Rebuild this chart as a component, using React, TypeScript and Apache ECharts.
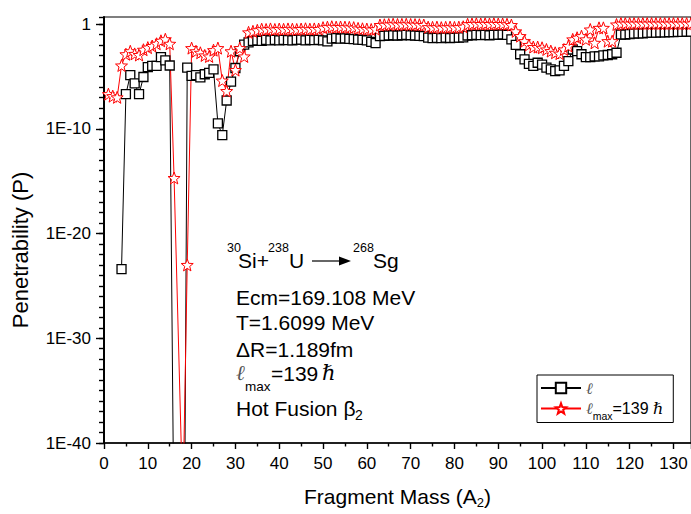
import React, { useEffect, useRef } from "react";
import * as echarts from "echarts";

// ---------- data ----------
// Fragment mass A2 runs 1..134; index i -> A2 = MASS_START + i
const MASS_START = 1;

// ℓ (black open squares)
const penetrabilityL: (number | null)[] = [
  null, null, null, 4e-24, 2.0e-7, 1.35e-5, 2.2e-6, 2.0e-7, 8.7e-6, 7.8e-5,
  1.0e-4, 1.0e-4, 6.9e-4, 3.4e-4, 1.1e-4, 1e-50, 1e-70, 1e-76, 7e-5, 1.1e-5,
  1.3e-5, 8e-6, 1.6e-5, 2.2e-5, 4.7e-5, 3.2e-10, 2.5e-11, 5e-8, 3.2e-6, 6.3e-5,
  2.5e-3, 1.1e-2, 1.8e-2, 0.025, 0.028, 0.025, 0.03, 0.027, 0.03, 0.028,
  0.031, 0.029, 0.027, 0.03, 0.032, 0.028, 0.03, 0.029, 0.031, 0.028,
  0.022, 0.04, 0.045, 0.04, 0.042, 0.038, 0.036, 0.033, 0.03, 0.027,
  0.02, 0.015, 0.07, 0.075, 0.08, 0.085, 0.08, 0.085, 0.09, 0.085,
  0.08, 0.075, 0.07, 0.05, 0.045, 0.048, 0.045, 0.05, 0.046, 0.048,
  0.05, 0.052, 0.08, 0.085, 0.09, 0.088, 0.09, 0.085, 0.09, 0.095,
  0.1, 0.09, 0.034, 0.01, 1.3e-3, 4.2e-4, 1.6e-4, 1.0e-4, 2.0e-4, 1.3e-4,
  6.8e-5, 4.7e-5, 3.2e-5, 3.8e-5, 1.0e-4, 2.9e-4, 3.7e-3, 2.6e-3, 1.3e-3, 7e-4,
  7e-4, 8e-4, 8e-4, 1e-3, 1.1e-3, 1.3e-3, 1.8e-3, 0.1, 0.1, 0.11,
  0.12, 0.13, 0.13, 0.14, 0.15, 0.15, 0.16, 0.16, 0.17, 0.17,
  0.18, 0.18, 0.19, 0.19,
];

// ℓmax = 139 ħ (red open stars)
const penetrabilityLmax: (number | null)[] = [
  2.0e-7, 1.3e-7, 1.0e-7, 1.1e-4, 1.3e-3, 2.5e-3, 1.4e-3, 1.1e-3, 3.5e-3, 5.6e-3,
  7.9e-3, 1.3e-2, 2.5e-2, 3.5e-2, 1.3e-2, 2.0e-15, null, 1e-46, 1.0e-23, 5.0e-3,
  2.5e-3, 1.8e-3, 1.0e-3, 8.0e-4, 3.2e-3, 5.0e-3, 4.0e-6, 4.0e-7, 2.5e-3, 4.0e-5,
  5.0e-3, 8.0e-4, 0.16, 0.2, 0.25, 0.32, 0.3, 0.34, 0.3, 0.33,
  0.31, 0.34, 0.32, 0.3, 0.33, 0.35, 0.32, 0.34, 0.33, 0.45,
  0.5, 0.55, 0.5, 0.52, 0.5, 0.48, 0.45, 0.38, 0.35, 0.33,
  0.3, 0.32, 0.8, 0.85, 0.9, 0.95, 0.9, 0.92, 0.95, 0.9,
  0.88, 0.85, 0.8, 0.5, 0.48, 0.5, 0.45, 0.48, 0.5, 0.47,
  0.5, 0.55, 0.95, 1.0, 1.05, 1.0, 1.05, 1.0, 1.05, 1.0,
  1.0, 0.95, 0.8, 0.2, 0.07, 0.023, 0.01, 6.3e-3, 6.3e-3, 5.4e-3,
  3.7e-3, 2.6e-3, 1.8e-3, 1.5e-3, 3.7e-3, 7.9e-3, 0.034, 0.049, 0.069, 0.034,
  0.3, 0.016, 0.43, 0.43, 0.023, 0.023, 0.9, 1.1, 1.1, 1.1,
  1.1, 1.1, 1.1, 1.1, 1.1, 1.1, 1.1, 1.1, 1.1, 1.1,
  1.1, 1.1, 1.1, 1.1,
];

// axes
const X_MIN = 0;
const X_MAX = 134;
const X_STEP = 10;
const Y_MIN = 1e-40;
const Y_MAX = 4.677; // top of frame, ~10^0.67
const Y_EXP_MIN = -40;
const Y_EXP_MAX = 0.67;
const Y_LABEL_STEP = 10; // labelled decades: 1E-40 ... 1
const Y_MINOR_STEP = 1;

const seriesNames = ["ℓ", "ℓmax=139 ℏ"];

const FONT = "Liberation Sans, Arial, sans-serif";
const SERIF_IT = "DejaVu Serif, serif";

const STAR =
  "path://M0,-10 L2.45,-3.37 L9.51,-3.09 L3.96,1.29 L5.88,8.09 L0,4.17 L-5.88,8.09 L-3.96,1.29 L-9.51,-3.09 L-2.45,-3.37 Z";

const toPairs = (arr: (number | null)[]) =>
  arr.map((v, i) => [MASS_START + i, v == null ? null : v]);

function txt(x: number, y: number, text: string, fontSize: number, extra: any = {}) {
  return {
    type: "text",
    x,
    y,
    style: {
      text,
      fontFamily: FONT,
      fontSize,
      fill: "#000",
      align: "left",
      verticalAlign: "middle",
      ...extra,
    },
  };
}

export default function App() {
  const ref = useRef<HTMLDivElement>(null);

  useEffect(() => {
    if (!ref.current) return;
    const chart = echarts.init(ref.current, undefined, { renderer: "svg" });

    const option: any = {
      animation: false,
      backgroundColor: "#fff",
      grid: {
        left: 104,
        top: 17,
        right: -2,
        bottom: 69,
        show: true,
        borderColor: "#000",
        borderWidth: 1.2,
        backgroundColor: "transparent",
      },
      legend: {
        left: 537,
        top: 375,
        orient: "vertical",
        data: seriesNames,
        itemWidth: 40,
        itemHeight: 13,
        itemGap: 4.5,
        padding: [5, 10, 1, 3],
        borderColor: "#000",
        borderWidth: 1,
        backgroundColor: "#fff",
        selectedMode: false,
        formatter: (name: string) =>
          name === seriesNames[0]
            ? "{l1|ℓ}"
            : "{l|ℓ}{sub|max}{t|=139 }{h|ℏ}",
        textStyle: {
          fontFamily: FONT,
          fontSize: 16,
          color: "#000",
          rich: {
            l1: { fontFamily: SERIF_IT, fontStyle: "italic", fontSize: 16, color: "#555", lineHeight: 22, verticalAlign: "middle" },
            l: { fontFamily: SERIF_IT, fontStyle: "italic", fontSize: 16, color: "#555", lineHeight: 26, verticalAlign: "middle" },
            t: { fontFamily: FONT, fontSize: 16, color: "#000", lineHeight: 26, verticalAlign: "middle" },
            h: { fontFamily: SERIF_IT, fontStyle: "italic", fontSize: 16, color: "#000", lineHeight: 26, verticalAlign: "middle" },
            sub: { fontFamily: FONT, fontSize: 10.5, color: "#000", lineHeight: 10, verticalAlign: "bottom" },
          },
        },
      },
      xAxis: {
        type: "value",
        min: X_MIN,
        max: X_MAX,
        interval: X_STEP,
        position: "bottom",
        axisLine: { onZero: false, lineStyle: { color: "#000", width: 1.6 } },
        axisTick: { show: true, inside: false, length: 6, lineStyle: { color: "#000", width: 1.4 } },
        minorTick: { show: true, splitNumber: 2, length: 3.5, lineStyle: { color: "#000", width: 1.4 } },
        splitLine: { show: false },
        axisLabel: { color: "#000", fontFamily: FONT, fontSize: 17, margin: 12, showMaxLabel: false },
        name: "{t|Fragment Mass (A}{s|2}{t|)}",
        nameLocation: "middle",
        nameGap: 40,
        nameTextStyle: {
          fontFamily: FONT,
          fontSize: 21,
          color: "#000",
          rich: {
            t: { fontFamily: FONT, fontSize: 21, color: "#000", lineHeight: 26, verticalAlign: "middle" },
            s: { fontFamily: FONT, fontSize: 13, color: "#000", lineHeight: 13, verticalAlign: "bottom" },
          },
        },
      },
      yAxis: [
        {
          // the data axis: a real log scale
          type: "log",
          logBase: 10,
          min: Y_MIN,
          max: Y_MAX,
          position: "left",
          show: false,
          splitLine: { show: false },
        },
        {
          // labelled decades (exponent scale, same extent as the log axis)
          type: "value",
          min: Y_EXP_MIN,
          max: Y_EXP_MAX,
          interval: Y_LABEL_STEP,
          position: "left",
          axisLine: { show: true, onZero: false, lineStyle: { color: "#000", width: 2 } },
          axisTick: { show: true, inside: false, length: 8, lineStyle: { color: "#000", width: 1.4 } },
          splitLine: { show: false },
          axisLabel: {
            color: "#000",
            fontFamily: FONT,
            fontSize: 17,
            margin: 13,
            showMaxLabel: false,
            formatter: (v: number) => (v === 0 ? "1" : "1E" + v),
          },
        },
        {
          // one minor tick per decade
          type: "value",
          min: Y_EXP_MIN,
          max: Y_EXP_MAX,
          interval: Y_MINOR_STEP,
          position: "left",
          axisLine: { show: false },
          axisTick: { show: true, inside: false, length: 5, lineStyle: { color: "#000", width: 1.4 } },
          axisLabel: { show: false },
          splitLine: { show: false },
        },
      ],
      series: [
        {
          name: seriesNames[0],
          type: "line",
          xAxisIndex: 0,
          yAxisIndex: 0,
          data: toPairs(penetrabilityL),
          symbol: "rect",
          symbolSize: 9,
          showAllSymbol: true,
          connectNulls: false,
          clip: true,
          itemStyle: { color: "#fff", borderColor: "#000", borderWidth: 1.3 },
          lineStyle: { color: "#000", width: 1 },
          emphasis: { disabled: true },
        },
        {
          name: seriesNames[1],
          type: "line",
          xAxisIndex: 0,
          yAxisIndex: 0,
          data: toPairs(penetrabilityLmax),
          symbol: STAR,
          symbolSize: 12,
          showAllSymbol: true,
          connectNulls: true,
          clip: true,
          itemStyle: { color: "#fff", borderColor: "#ff0000", borderWidth: 1 },
          lineStyle: { color: "#ff0000", width: 1 },
          emphasis: { disabled: true },
        },
      ],
      graphic: [
        {
          type: "text",
          x: 20,
          y: 250,
          rotation: Math.PI / 2,
          style: {
            text: "Penetrability (P)",
            fontFamily: FONT,
            fontSize: 22,
            fill: "#000",
            align: "center",
            verticalAlign: "middle",
          },
        },
        // reaction  30Si + 238U -> 268Sg
        txt(227, 248, "30", 12.5),
        txt(238, 260, "Si+", 21),
        txt(268, 248, "238", 12.5),
        txt(289, 260, "U", 21),
        {
          type: "line",
          shape: { x1: 312, y1: 261, x2: 344, y2: 261 },
          style: { stroke: "#000", lineWidth: 1.2 },
        },
        {
          type: "polygon",
          shape: { points: [[339, 256.5], [351, 261], [339, 265.5]] },
          style: { fill: "#000" },
        },
        txt(353, 248, "268", 12.5),
        txt(373, 260, "Sg", 21),
        // parameters
        txt(236, 297, "Ecm=169.108 MeV", 21),
        txt(236, 322.5, "T=1.6099 MeV", 21),
        txt(236, 349, "ΔR=1.189fm", 21),
        txt(236, 373, "ℓ", 21, { fontFamily: SERIF_IT, fontStyle: "italic", fill: "#555" }),
        txt(245, 386, "max", 13.5),
        txt(271, 373, "=139", 21),
        txt(322, 373, "ℏ", 21, { fontFamily: SERIF_IT, fontStyle: "italic" }),
        txt(236, 408, "Hot Fusion β", 21),
        txt(355, 415, "2", 14),
      ],
    };

    chart.setOption(option);
    return () => chart.dispose();
  }, []);

  return (
    <div
      ref={ref}
      style={{ position: "absolute", left: 0, top: 0, width: 691, height: 514, background: "#fff" }}
    />
  );
}
